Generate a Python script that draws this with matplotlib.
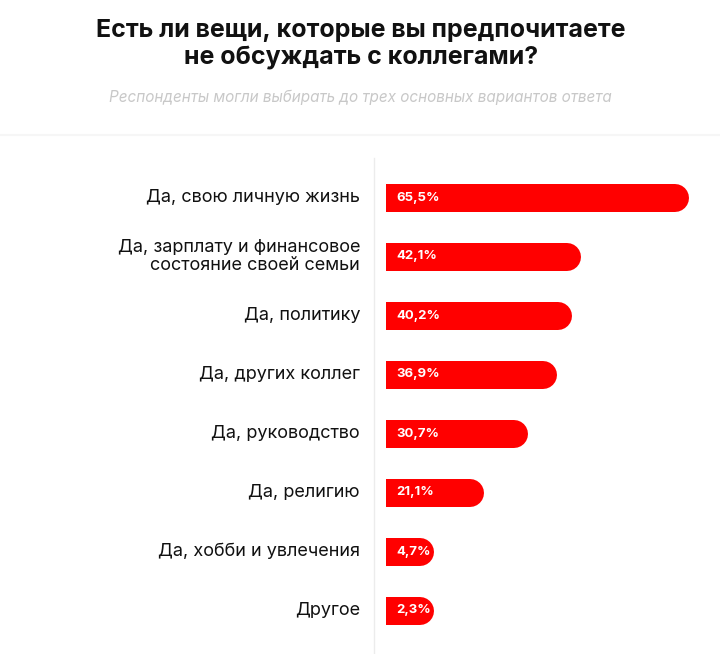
import matplotlib.pyplot as plt
from matplotlib.lines import Line2D

plt.rcParams['font.family'] = ['Inter', 'DejaVu Sans']

categories = [
    'Да, свою личную жизнь',
    'Да, зарплату и финансовое\nсостояние своей семьи',
    'Да, политику',
    'Да, других коллег',
    'Да, руководство',
    'Да, религию',
    'Да, хобби и увлечения',
    'Другое',
]
values = [65.5, 42.1, 40.2, 36.9, 30.7, 21.1, 4.7, 2.3]
value_labels = ['65,5%', '42,1%', '40,2%', '36,9%', '30,7%', '21,1%', '4,7%', '2,3%']

title = 'Есть ли вещи, которые вы предпочитаете\nне обсуждать с коллегами?'
subtitle = 'Респонденты могли выбирать до трех основных вариантов ответа'

W, H = 720, 654
fig = plt.figure(figsize=(W / 100, H / 100), dpi=100)

# axes for the bars, in pixel positions of the figure
x0, x1 = 386, 720
ytop, ybot = 168, 640
ax = fig.add_axes([x0 / W, 1 - ybot / H, (x1 - x0) / W, (ybot - ytop) / H])
px_per_unit = 4.63
ax.set_xlim(0, (x1 - x0) / px_per_unit)
ax.set_ylim(len(categories) - 0.5, -0.5)
ax.axis('off')

bar_h_px = 28
lw = bar_h_px * 72 / 100
r = (bar_h_px / 2) / px_per_unit
min_w = 10.4
red = '#ff0000'

for i, (cat, v, lab) in enumerate(zip(categories, values, value_labels)):
    w = max(v, min_w)
    ax.plot([-r, w - r], [i, i], color=red, lw=lw, solid_capstyle='round')
    ax.text(10 / px_per_unit, i, lab, color='white', fontsize=9.5,
            fontweight='bold', va='center', ha='left')
    ax.text(-26 / px_per_unit, i, cat, color='#111111', fontsize=13,
            va='center', ha='right', linespacing=1.05, clip_on=False)

# vertical axis line and faint separator
fig.add_artist(Line2D([374 / W, 374 / W], [0, 1 - 158 / H], color='#ececec', lw=1))
fig.add_artist(Line2D([0, 1], [1 - 135 / H, 1 - 135 / H], color='#f6f6f6', lw=1.5))

fig.text(361 / W, 1 - 44 / H, title, ha='center', va='center', fontsize=18,
         fontweight='bold', color='#111111', linespacing=1.18)
fig.text(360 / W, 1 - 97 / H, subtitle, ha='center', va='center', fontsize=11,
         style='italic', color='#c8c8c8')

fig.savefig('out.png', dpi=100)
